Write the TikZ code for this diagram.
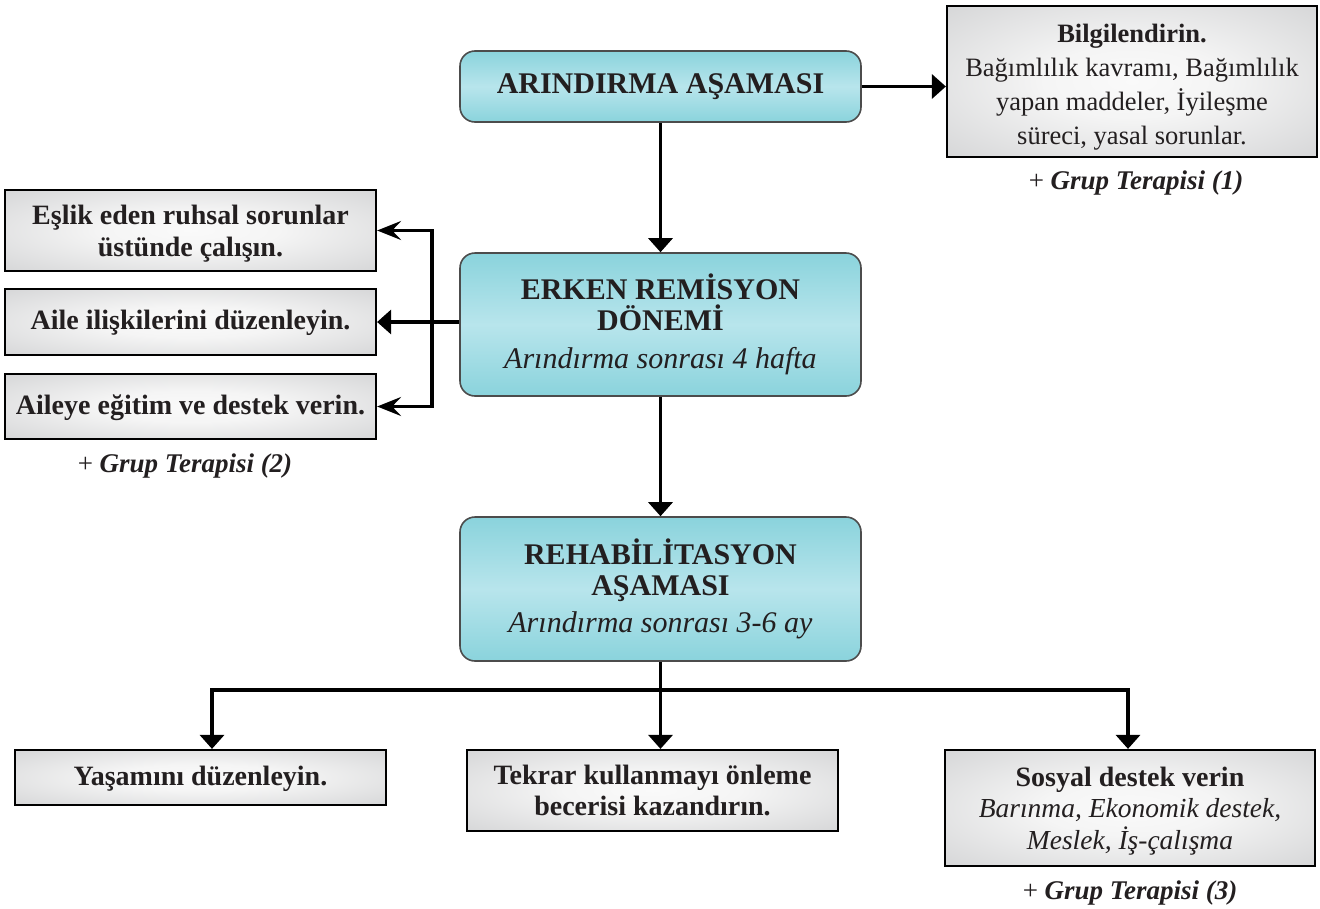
\documentclass[tikz,border=0pt]{standalone}
\usepackage{fontspec}
\setmainfont{Liberation Serif}
\usetikzlibrary{arrows.meta}
\definecolor{tealedge}{HTML}{8AD3DC}
\definecolor{tealmid}{HTML}{B8E5EC}
\definecolor{grayedge}{HTML}{C3C4C6}
\definecolor{inkc}{HTML}{231F20}
\pgfdeclareradialshading{grayglow}{\pgfpoint{0bp}{0bp}}{color(0bp)=(white!96!gray); color(12bp)=(white!92!gray); color(50bp)=(grayedge); color(72bp)=(grayedge)}
\begin{document}
\begin{tikzpicture}[x=1pt,y=-1pt,
  every node/.style={text=inkc},
  phase/.style={rounded corners=15pt, draw=black!70, line width=1.6pt,
    top color=tealedge, bottom color=tealedge, middle color=tealmid,
    minimum width=401pt, align=center, inner sep=0pt,
    font=\fontsize{30}{31}\selectfont\bfseries},
  infobox/.style={draw=black, line width=2.2pt, shading=grayglow,
    align=center, inner sep=0pt, minimum width=371pt,
    font=\fontsize{28}{31.5}\selectfont\bfseries},
  glabel/.style={font=\fontsize{27}{30}\selectfont},
  conn/.style={draw=black, line width=3.3pt},
  arr/.style={conn, -{Triangle[length=14pt,width=24pt]}},
  barr/.style={draw=black, line width=3.3pt,
    {Stealth[length=24pt,width=19pt,inset=9pt]}-{Stealth[length=24pt,width=19pt,inset=9pt]}}
]
\useasboundingbox (0,0) rectangle (1320,908);

% main phases
\node[phase, minimum height=71pt] (a1) at (660.5,86.5) {ARINDIRMA AŞAMASI};
\node[phase, minimum height=143pt] (a2) at (660.5,324.5)
  {ERKEN REMİSYON\\DÖNEMİ\\[7pt]{\normalfont\itshape\fontsize{30}{31}\selectfont Arındırma sonrası 4 hafta}};
\node[phase, minimum height=144pt] (a3) at (660.5,589)
  {REHABİLİTASYON\\AŞAMASI\\[6pt]{\normalfont\itshape\fontsize{30}{31}\selectfont Arındırma sonrası 3-6 ay}};

% info box top right
\node[infobox, minimum width=370pt, minimum height=151pt, font=\fontsize{26.5}{34}\selectfont] (info) at (1132,81.5)
  {\rule{0pt}{30pt}\textbf{Bilgilendirin.}\\Bağımlılık kavramı, Bağımlılık\\yapan maddeler, İyileşme\\süreci, yasal sorunlar.};
\node[glabel] (g1) at (1136,183) {+ \textbf{\textit{Grup Terapisi (1)}}};

% left boxes
\node[infobox, minimum height=81pt] (l1) at (190.5,230.5) {\rule{0pt}{26pt}Eşlik eden ruhsal sorunlar\\üstünde çalışın.};
\node[infobox, minimum height=66pt] (l2) at (190.5,322) {\rule{0pt}{22pt}Aile ilişkilerini düzenleyin.};
\node[infobox, minimum height=65pt] (l3) at (190.5,406.5) {\rule{0pt}{22pt}Aileye eğitim ve destek verin.};
\node[glabel] (g2) at (185,466) {+ \textbf{\textit{Grup Terapisi (2)}}};

% bottom boxes
\node[infobox, minimum height=55pt] (b1) at (200.5,777.5) {\rule{0pt}{22pt}Yaşamını düzenleyin.};
\node[infobox, minimum height=81pt] (b2) at (652.5,790.5) {Tekrar kullanmayı önleme\\becerisi kazandırın.};
\node[infobox, minimum width=370pt, minimum height=116pt] (b3) at (1130,808)
  {\rule{0pt}{25pt}Sosyal destek verin\\{\normalfont\itshape\fontsize{27.5}{31.5}\selectfont Barınma, Ekonomik destek,}\\{\normalfont\itshape\fontsize{27.5}{31.5}\selectfont Meslek, İş-çalışma}};
\node[glabel] (g3) at (1130,893) {+ \textbf{\textit{Grup Terapisi (3)}}};

% connectors
\draw[arr] (a1.east) -- (a1.east -| info.west);
\draw[arr] (a1.south) -- (a2.north);
\draw[arr] (a2.south) -- (a3.north);

\coordinate (vx) at (432,0);
\draw[arr] (a2.west |- l2.east) -- (l2.east);
\draw[barr] (l1.east) -- (vx |- l1.east) -- (vx |- l3.east) -- (l3.east);

\coordinate (hb) at (660.5,690);
\draw[conn] (a3.south) -- (hb);
\draw[arr] (hb) -- (hb |- b2.north);
\draw[arr] (hb) -| ([xshift=11.5pt]b1.north);
\draw[arr] (hb) -| ([xshift=-2pt]b3.north);
\end{tikzpicture}
\end{document}
